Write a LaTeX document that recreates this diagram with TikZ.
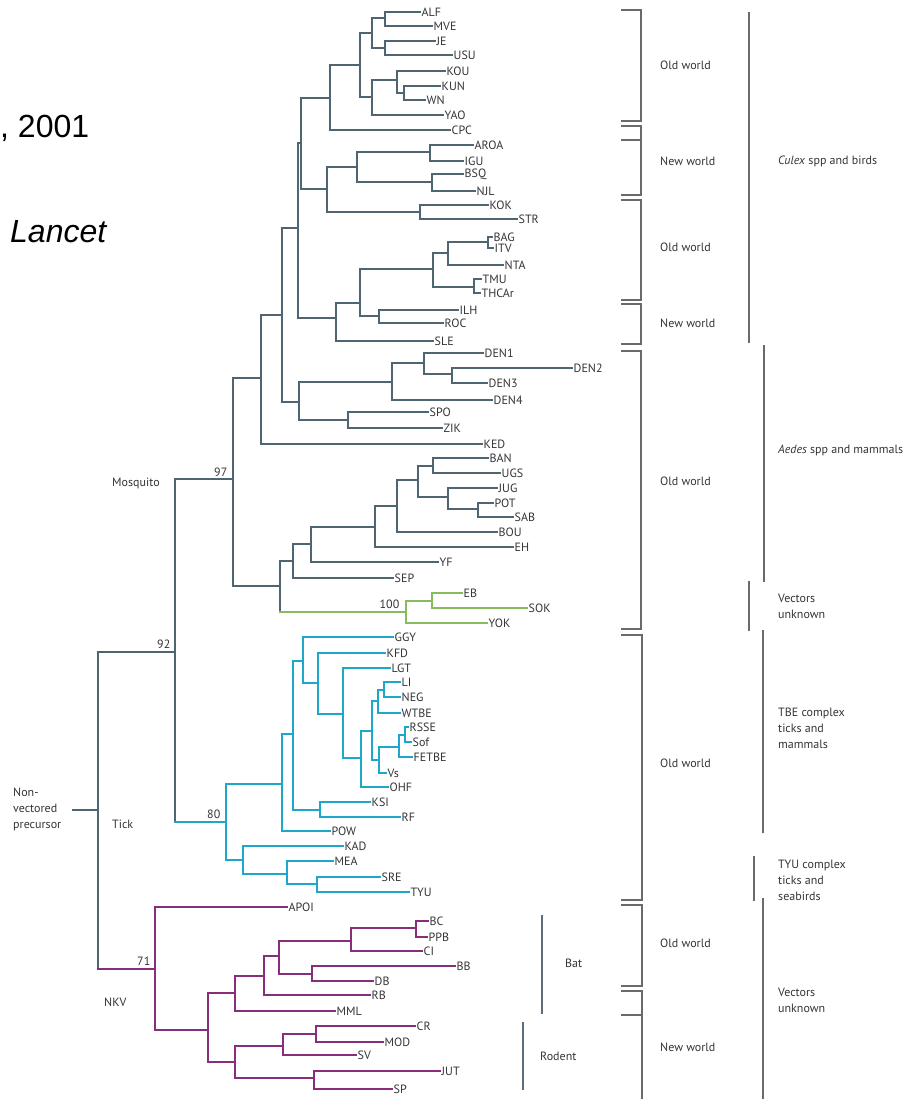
\documentclass[tikz,border=0pt]{standalone}
\usepackage{fontspec}
\setmainfont{PT Sans}
\newfontfamily\arialf{Liberation Sans}
\definecolor{mosc}{HTML}{4F6672}
\definecolor{grnc}{HTML}{86BC5C}
\definecolor{cync}{HTML}{1FA7CB}
\definecolor{purc}{HTML}{8A2C7C}
\definecolor{txtc}{HTML}{353535}
\definecolor{brc}{HTML}{6A6A6A}
\definecolor{barc}{HTML}{5C6C78}
\newcommand\treenode[5]{\coordinate (#1) at (#2,#3); \draw[#5] (#4) |- (#1);}
\newcommand\treetip[5]{\coordinate (#1) at (#2,#3); \draw[#5] (#4) |- (#1); \node[lab] (L#1) at (#1) {#1};}
\begin{document}
\begin{tikzpicture}[x=1pt,y=-1pt,
 tr/.style={line width=2.4pt,line cap=rect},
 mos/.style={tr,draw=mosc}, grn/.style={tr,draw=grnc},
 cyn/.style={tr,draw=cync}, pur/.style={tr,draw=purc},
 lab/.style={font=\fontsize{12}{13}\selectfont, text=txtc, inner sep=1.5pt, anchor=west},
 grp/.style={font=\fontsize{12}{16}\selectfont, text=txtc, inner sep=0pt, anchor=west, align=left},
 brk/.style={draw=brc, line width=1.3pt},
 bar/.style={draw=barc, line width=1.8pt},
 big/.style={font=\arialf\fontsize{32}{36}\selectfont, text=black, inner sep=0pt, anchor=base west}]
\useasboundingbox (0,0) rectangle (907,1099);
\fill[white] (0,0) rectangle (907,1099);

% cropped caption text
\node[big] (cap1) at (0,138) {, 2001};
\node[big] (cap2) at (10,243) {\itshape Lancet};

% root
\coordinate (R0) at (73,810);
\coordinate (R) at (98,810);
\draw[mos] (R0) -- (R);
\coordinate (N92) at (175,652);
\draw[mos] (R) |- (N92);
\coordinate (P0) at (155,969);
\draw[mos] (R) -- (R |- P0);
\draw[pur] (R |- P0) -- (P0);
\coordinate (N97) at (233,479);
\draw[mos] (N92) |- (N97);
\coordinate (N80) at (226,822);
\draw[mos] (N92) -- (N92 |- N80);
\draw[cyn] (N92 |- N80) -- (N80);

% mosquito clade
\treenode{A}{261}{378}{N97}{mos}
\treenode{B}{282}{315}{A}{mos}
\treetip{KED}{482}{444}{A}{mos}
\treenode{C}{298}{228}{B}{mos}
\treenode{D}{299}{402}{B}{mos}
\treenode{E}{301}{143}{C}{mos}
\treenode{F}{336}{318}{C}{mos}
\treenode{G}{330}{98}{E}{mos}
\treenode{H}{327}{189}{E}{mos}
\treenode{I}{360}{65}{G}{mos}
\treetip{CPC}{450}{130}{G}{mos}
\treenode{J}{372}{33}{I}{mos}
\treenode{K}{372}{97}{I}{mos}
\treenode{Ja}{385}{18}{J}{mos}
\treenode{Jb}{385}{48}{J}{mos}
\treetip{ALF}{420}{12}{Ja}{mos}
\treetip{MVE}{432}{26}{Ja}{mos}
\treetip{JE}{435}{41}{Jb}{mos}
\treetip{USU}{452}{55}{Jb}{mos}
\treenode{Ka}{397}{80}{K}{mos}
\treetip{YAO}{443}{115}{K}{mos}
\treetip{KOU}{445}{71}{Ka}{mos}
\treenode{Kb}{404}{93}{Ka}{mos}
\treetip{KUN}{440}{86}{Kb}{mos}
\treetip{WN}{425}{100}{Kb}{mos}
\treenode{Ha}{357}{167}{H}{mos}
\treenode{Hb}{420}{212}{H}{mos}
\treenode{Hc}{430}{152}{Ha}{mos}
\treenode{Hd}{432}{182}{Ha}{mos}
\treetip{AROA}{473}{145}{Hc}{mos}
\treetip{IGU}{463}{161}{Hc}{mos}
\treetip{BSQ}{463}{174}{Hd}{mos}
\treetip{NJL}{475}{191}{Hd}{mos}
\treetip{KOK}{488}{205}{Hb}{mos}
\treetip{STR}{517}{219}{Hb}{mos}
\treenode{Fa}{360}{303}{F}{mos}
\treetip{SLE}{433}{341}{F}{mos}
\treenode{Fb}{433}{269}{Fa}{mos}
\treenode{Fc}{379}{316}{Fa}{mos}
\treenode{Fd}{448}{253}{Fb}{mos}
\treenode{Fe}{474}{287}{Fb}{mos}
\treenode{Ff}{488}{242}{Fd}{mos}
\treetip{NTA}{503}{265}{Fd}{mos}
\treetip{BAG}{492}{237}{Ff}{mos}
\treetip{ITV}{493}{248}{Ff}{mos}
\treetip{TMU}{481}{279}{Fe}{mos}
\treetip{THCAr}{480}{293}{Fe}{mos}
\treetip{ILH}{458}{310}{Fc}{mos}
\treetip{ROC}{443}{323}{Fc}{mos}
\treenode{Da}{392}{382}{D}{mos}
\treenode{Db}{348}{420}{D}{mos}
\treenode{Dc}{424}{363}{Da}{mos}
\treetip{DEN4}{492}{400}{Da}{mos}
\treetip{DEN1}{483}{353}{Dc}{mos}
\treenode{Dd}{452}{374}{Dc}{mos}
\treetip{DEN2}{572}{368}{Dd}{mos}
\treetip{DEN3}{487}{383}{Dd}{mos}
\treetip{SPO}{428}{412}{Db}{mos}
\treetip{ZIK}{442}{428}{Db}{mos}
\treenode{M1}{280}{586}{N97}{mos}
\treenode{M2}{293}{561}{M1}{mos}
\coordinate (G1) at (406,612);
\draw[mos] (M1) -- (M1 |- G1);
\draw[grn] (M1 |- G1) -- (G1);
\treenode{M3}{311}{544}{M2}{mos}
\treetip{SEP}{393}{578}{M2}{mos}
\treenode{M4}{375}{527}{M3}{mos}
\treetip{YF}{438}{562}{M3}{mos}
\treenode{M5}{397}{506}{M4}{mos}
\treetip{EH}{513}{547}{M4}{mos}
\treenode{M6}{418}{480}{M5}{mos}
\treetip{BOU}{497}{532}{M5}{mos}
\treenode{M7}{433}{466}{M6}{mos}
\treenode{M8}{448}{497}{M6}{mos}
\treetip{BAN}{488}{458}{M7}{mos}
\treetip{UGS}{500}{473}{M7}{mos}
\treetip{JUG}{497}{488}{M8}{mos}
\treenode{M9}{478}{509}{M8}{mos}
\treetip{POT}{493}{503}{M9}{mos}
\treetip{SAB}{513}{517}{M9}{mos}
\treenode{G2}{432}{601}{G1}{grn}
\treetip{YOK}{487}{623}{G1}{grn}
\treetip{EB}{462}{593}{G2}{grn}
\treetip{SOK}{527}{608}{G2}{grn}

% tick clade
\treenode{T1}{282}{784}{N80}{cyn}
\treenode{T2}{243}{860}{N80}{cyn}
\treenode{T3}{293}{734}{T1}{cyn}
\treetip{POW}{330}{831}{T1}{cyn}
\treenode{T4}{303}{661}{T3}{cyn}
\treenode{T5}{320}{810}{T3}{cyn}
\treetip{GGY}{393}{637}{T4}{cyn}
\treenode{T6}{318}{683}{T4}{cyn}
\treetip{KFD}{385}{653}{T6}{cyn}
\treenode{T7}{343}{714}{T6}{cyn}
\treetip{LGT}{390}{668}{T7}{cyn}
\treenode{T8}{361}{758}{T7}{cyn}
\treenode{T9}{372}{731}{T8}{cyn}
\treetip{OHF}{388}{787}{T8}{cyn}
\treenode{T10}{378}{701}{T9}{cyn}
\treenode{T11}{379}{760}{T9}{cyn}
\treenode{T12}{384}{690}{T10}{cyn}
\treetip{WTBE}{400}{713}{T10}{cyn}
\treetip{LI}{400}{682}{T12}{cyn}
\treetip{NEG}{400}{697}{T12}{cyn}
\treenode{T13}{399}{747}{T11}{cyn}
\treetip{Vs}{386}{773}{T11}{cyn}
\treenode{T14}{405}{735}{T13}{cyn}
\treetip{FETBE}{412}{757}{T13}{cyn}
\treetip{RSSE}{408}{727}{T14}{cyn}
\treetip{Sof}{411}{742}{T14}{cyn}
\treetip{KSI}{370}{802}{T5}{cyn}
\treetip{RF}{400}{817}{T5}{cyn}
\treetip{KAD}{343}{846}{T2}{cyn}
\treenode{T15}{287}{874}{T2}{cyn}
\treetip{MEA}{333}{861}{T15}{cyn}
\treenode{T16}{317}{884}{T15}{cyn}
\treetip{SRE}{380}{877}{T16}{cyn}
\treetip{TYU}{409}{892}{T16}{cyn}

% NKV clade
\treetip{APOI}{287}{907}{P0}{pur}
\treenode{P1}{208}{1030}{P0}{pur}
\treenode{P2}{235}{993}{P1}{pur}
\treenode{P3}{235}{1062}{P1}{pur}
\treenode{P4}{264}{976}{P2}{pur}
\treetip{MML}{335}{1011}{P2}{pur}
\treenode{P5}{279}{956}{P4}{pur}
\treetip{RB}{370}{995}{P4}{pur}
\treenode{P6}{351}{941}{P5}{pur}
\treenode{P7}{312}{974}{P5}{pur}
\treenode{P8}{416}{928}{P6}{pur}
\treetip{CI}{422}{951}{P6}{pur}
\treetip{BC}{428}{921}{P8}{pur}
\treetip{PPB}{427}{937}{P8}{pur}
\treetip{BB}{455}{966}{P7}{pur}
\treetip{DB}{373}{981}{P7}{pur}
\treenode{P9}{283}{1046}{P3}{pur}
\treenode{P10}{314}{1078}{P3}{pur}
\treenode{P11}{316}{1034}{P9}{pur}
\treetip{SV}{356}{1055}{P9}{pur}
\treetip{CR}{415}{1026}{P11}{pur}
\treetip{MOD}{383}{1042}{P11}{pur}
\treetip{JUT}{440}{1071}{P10}{pur}
\treetip{SP}{392}{1089}{P10}{pur}

% support values
\node[lab,anchor=south east] (b97) at (229,478) {97};
\node[lab,anchor=south east] (b92) at (172,650) {92};
\node[lab,anchor=south east] (b80) at (222,820) {80};
\node[lab,anchor=south east] (b100) at (401,610) {100};
\node[lab,anchor=south east] (b71) at (152,967) {71};

% clade names
\node[grp] (mosq) at (112,483) {Mosquito};
\node[grp] (tick) at (112,824) {Tick};
\node[grp] (nkv) at (104,1002) {NKV};
\node[grp] (nvp) at (13,809) {Non-\\vectored\\precursor};

% geography brackets
\draw[brk] (621,10) -- (641,10) -- (641,121) -- (621,121);
\draw[brk] (621,126) -- (641,126) -- (641,195) -- (621,195);
\draw[brk] (621,140) -- (641,140);
\draw[brk] (621,200) -- (641,200) -- (641,300) -- (621,300);
\draw[brk] (621,304) -- (641,304) -- (641,344) -- (621,344);
\draw[brk] (621,351) -- (641,351) -- (641,629) -- (621,629);
\draw[brk] (621,635) -- (642,635) -- (642,900) -- (621,900);
\draw[brk] (621,905) -- (642,905) -- (642,986) -- (621,986);
\draw[brk] (621,991) -- (642,991) -- (642,1099);
\draw[brk] (621,1015) -- (642,1015);

\node[grp] (ow1) at (660,65) {Old world};
\node[grp] (nw1) at (660,161) {New world};
\node[grp] (ow2) at (660,247) {Old world};
\node[grp] (nw2) at (660,323) {New world};
\node[grp] (ow3) at (660,481) {Old world};
\node[grp] (ow4) at (660,763) {Old world};
\node[grp] (ow5) at (660,943) {Old world};
\node[grp] (nw3) at (660,1047) {New world};

% vector / host bars
\draw[brk] (749,12) -- (749,343);
\draw[brk] (764,345) -- (764,582);
\draw[brk] (749,581) -- (749,631);
\draw[brk] (763,630) -- (763,833);
\draw[brk] (754,856) -- (754,901);
\draw[brk] (763,898) -- (763,1099);

\node[grp] (culex) at (778,161) {\textit{Culex} spp and birds};
\node[grp] (aedes) at (778,450) {\textit{Aedes} spp and mammals};
\node[grp] (vu1) at (778,606) {Vectors\\unknown};
\node[grp] (tbe) at (778,728) {TBE complex\\ticks and\\mammals};
\node[grp] (tyu) at (778,880) {TYU complex\\ticks and\\seabirds};
\node[grp] (vu2) at (778,1000) {Vectors\\unknown};

% host bars
\draw[bar] (542,915) -- (542,1014);
\draw[bar] (523,1022) -- (523,1090);
\node[grp] (bat) at (565,963) {Bat};
\node[grp] (rod) at (540,1056) {Rodent};
\end{tikzpicture}
\end{document}
